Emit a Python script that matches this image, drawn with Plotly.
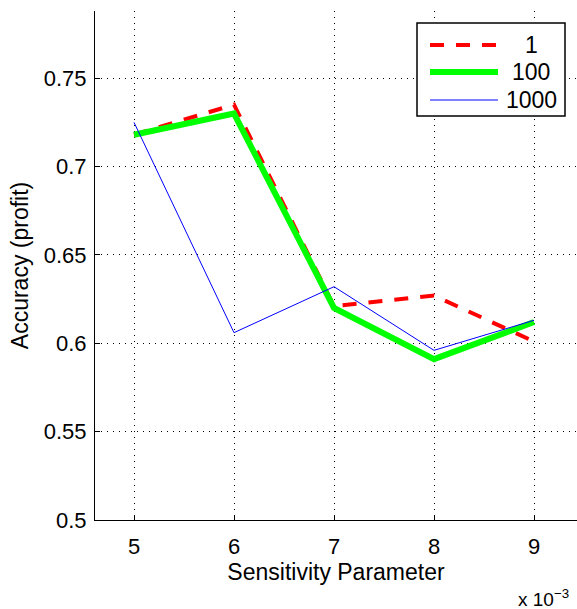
import plotly.graph_objects as go

x_vals = [0.005, 0.006, 0.007, 0.008, 0.009]
acc_1 = [0.718, 0.735, 0.621, 0.627, 0.601]
acc_100 = [0.718, 0.730, 0.620, 0.591, 0.612]
acc_1000 = [0.725, 0.606, 0.632, 0.596, 0.613]
series_names = ["1", "100", "1000"]
x_tick_vals = [0.005, 0.006, 0.007, 0.008, 0.009]
x_tick_text = ["5", "6", "7", "8", "9"]
y_tick_vals = [0.5, 0.55, 0.6, 0.65, 0.7, 0.75]
y_tick_text = ["0.5", "0.55", "0.6", "0.65", "0.7", "0.75"]

FONT = "Liberation Sans, Arial, Helvetica, sans-serif"
styles = [
    dict(color="#ff0000", width=4, dash="14px,12px"),
    dict(color="#00ff00", width=6, dash="solid"),
    dict(color="#0000ff", width=1, dash="solid"),
]

fig = go.Figure()
for name, ys, st in zip(series_names, [acc_1, acc_100, acc_1000], styles):
    fig.add_trace(go.Scatter(x=x_vals, y=ys, mode="lines", name=name,
                             line=st, showlegend=False))

fig.update_layout(
    width=577, height=609,
    margin=dict(l=95, r=0, t=11, b=89),
    plot_bgcolor="white", paper_bgcolor="white",
    font=dict(family=FONT, size=22, color="black"),
    xaxis=dict(range=[0.00461, 0.00943], tickvals=x_tick_vals, ticktext=x_tick_text,
               showgrid=True, gridcolor="black", gridwidth=1, griddash="1px,5px",
               ticks="inside", ticklen=5, tickcolor="black",
               showline=True, linecolor="black", linewidth=1, zeroline=False,
               tickfont=dict(size=22), ticklabelstandoff=7,
               title=dict(text="Sensitivity Parameter", font=dict(size=23), standoff=2)),
    yaxis=dict(range=[0.5, 0.788], tickvals=y_tick_vals, ticktext=y_tick_text,
               showgrid=True, gridcolor="black", gridwidth=1, griddash="1px,5px",
               ticks="inside", ticklen=5, tickcolor="black",
               showline=True, linecolor="black", linewidth=1, zeroline=False,
               tickfont=dict(size=22), ticklabelstandoff=3,
               title=dict(text="Accuracy (profit)", font=dict(size=23), standoff=8)),
)

# Legend drawn as a boxed key in pixel-equivalent paper coordinates
pl, pt, pw, ph = 95, 11, 577 - 95, 609 - 11 - 89

def px(x):
    return (x - pl) / pw

def py(y):
    return 1 - (y - pt) / ph

fig.add_shape(type="rect", xref="paper", yref="paper",
              x0=px(417), x1=px(565), y0=py(116), y1=py(23),
              line=dict(color="black", width=1.5), fillcolor="white", layer="above")
rows = [45, 72, 100]
for name, st, yy in zip(series_names, styles, rows):
    fig.add_shape(type="line", xref="paper", yref="paper",
                  x0=px(430), x1=px(498), y0=py(yy), y1=py(yy),
                  line=st, layer="above")
    fig.add_annotation(xref="paper", yref="paper", x=px(531), y=py(yy),
                       text=name, showarrow=False, xanchor="center", yanchor="middle",
                       font=dict(size=23, family=FONT))

fig.add_annotation(xref="paper", yref="paper", x=px(516), y=py(598),
                   text="x 10<sup>\u22123</sup>", showarrow=False,
                   xanchor="left", yanchor="middle", font=dict(size=19, family=FONT))

fig.write_html("out.html")
